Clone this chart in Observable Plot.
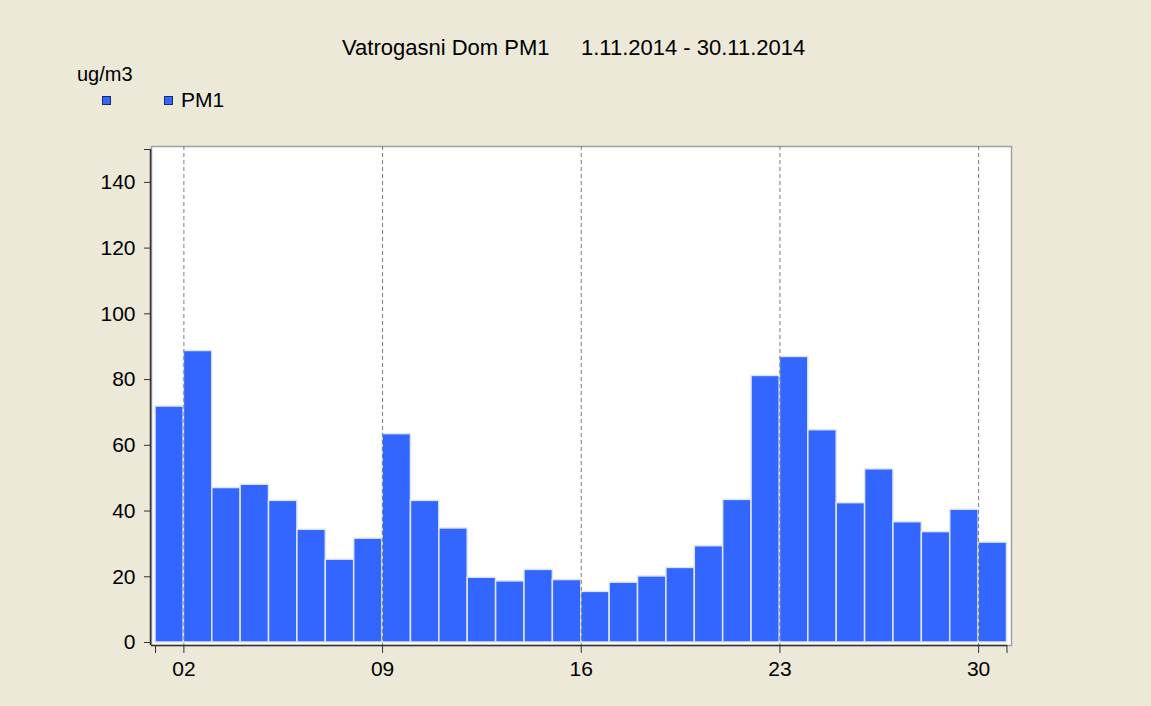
<!DOCTYPE html>
<html>
<head>
<meta charset="utf-8">
<script src="https://cdn.jsdelivr.net/npm/d3@7"></script>
<script src="https://cdn.jsdelivr.net/npm/@observablehq/plot@0.6"></script>
<style>
  html, body { margin: 0; padding: 0; background: #ECE9D8; overflow: hidden; }
  #wrap { position: relative; width: 1151px; height: 706px; background: #ECE9D8;
          font-family: "Liberation Sans", Arial, sans-serif; color: #000; }
  .t { position: absolute; white-space: pre; line-height: 1; }
  .sq { position: absolute; width: 7px; height: 7px; background: #3366ff; border: 1px solid #1a2a66; }
  #chart { position: absolute; left: 0; top: 0; }
</style>
</head>
<body>
<div id="wrap">
  <div id="chart"></div>
  <div class="t" id="title1" style="left:342px; top:37px; font-size:22px;"></div>
  <div class="t" id="title2" style="left:581px; top:37px; font-size:22px;"></div>
  <div class="t" id="unit" style="left:77px; top:64px; font-size:20px;"></div>
  <div class="sq" style="left:102px; top:96px;"></div>
  <div class="sq" style="left:164px; top:96px;"></div>
  <div class="t" id="legend" style="left:181px; top:89px; font-size:21px;"></div>
</div>
<script>
// ---- data ----
const titleText = "Vatrogasni Dom PM1";
const periodText = "1.11.2014 - 30.11.2014";
const unitText = "ug/m3";
const seriesName = "PM1";

const days = [1, 2, 3, 4, 5, 6, 7, 8, 9, 10, 11, 12, 13, 14, 15,
              16, 17, 18, 19, 20, 21, 22, 23, 24, 25, 26, 27, 28, 29, 30];
const pm1 = [71.8, 88.7, 47.0, 48.0, 43.1, 34.3, 25.2, 31.6, 63.4, 43.1,
             34.7, 19.7, 18.6, 22.1, 19.0, 15.4, 18.2, 20.1, 22.7, 29.3,
             43.4, 81.1, 86.9, 64.6, 42.4, 52.7, 36.6, 33.6, 40.4, 30.4];
const gridDays = [2, 9, 16, 23, 30];
const gridLabels = ["02", "09", "16", "23", "30"];
const yTicks = [0, 20, 40, 60, 80, 100, 120, 140];
const yMax = 150;

// ---- build ----
document.getElementById("title1").textContent = titleText;
document.getElementById("title2").textContent = periodText;
document.getElementById("unit").textContent = unitText;
document.getElementById("legend").textContent = seriesName;

const dayDate = d => new Date(Date.UTC(2014, 10, d));
const start = dayDate(days[0]);
const end = dayDate(days[days.length - 1] + 1);
const table = days.map((d, i) => ({start: dayDate(d), end: dayDate(d + 1), value: pm1[i]}));
const gridDates = gridDays.map(dayDate);
const xTickDates = [start, ...gridDates, end];
const labelOf = new Map(gridDates.map((d, i) => [+d, gridLabels[i]]));

const chart = Plot.plot({
  width: 1151,
  height: 706,
  marginLeft: 151,
  marginRight: 140,
  marginTop: 146,
  marginBottom: 61,
  style: {background: "transparent", fontFamily: "'Liberation Sans', Arial, sans-serif", color: "#000"},
  x: {type: "utc", domain: [start, end], insetLeft: 4, insetRight: 4.5},
  y: {domain: [0, yMax], insetTop: 3, insetBottom: 3},
  marks: [
    Plot.frame({fill: "white", stroke: "#a0a0a0", strokeWidth: 1.5}),
    Plot.rectY(table, {x1: "start", x2: "end", y: "value", fill: "#3366ff", stroke: "#dfe6f2", strokeWidth: 1.5}),
    Plot.ruleX(gridDates, {stroke: "#7a7a7a", strokeDasharray: "4,3", strokeWidth: 1}),
    Plot.ruleX([start], {dx: -5, insetTop: 3, stroke: "#333", strokeWidth: 1.5}),
    Plot.ruleY([0], {dy: 3, insetRight: 4, stroke: "#333", strokeWidth: 1.5}),
    Plot.axisY({ticks: [...yTicks, yMax], tickFormat: d => d === yMax ? "" : String(d),
                tickSize: 7, tickPadding: 9, fontSize: 21, label: null, stroke: "#333"}),
    Plot.axisX({ticks: xTickDates, tickFormat: d => labelOf.get(+d) ?? "",
                tickSize: 8, tickPadding: 8, fontSize: 21, label: null, stroke: "#333"})
  ]
});
document.getElementById("chart").appendChild(chart);
</script>
</body>
</html>
